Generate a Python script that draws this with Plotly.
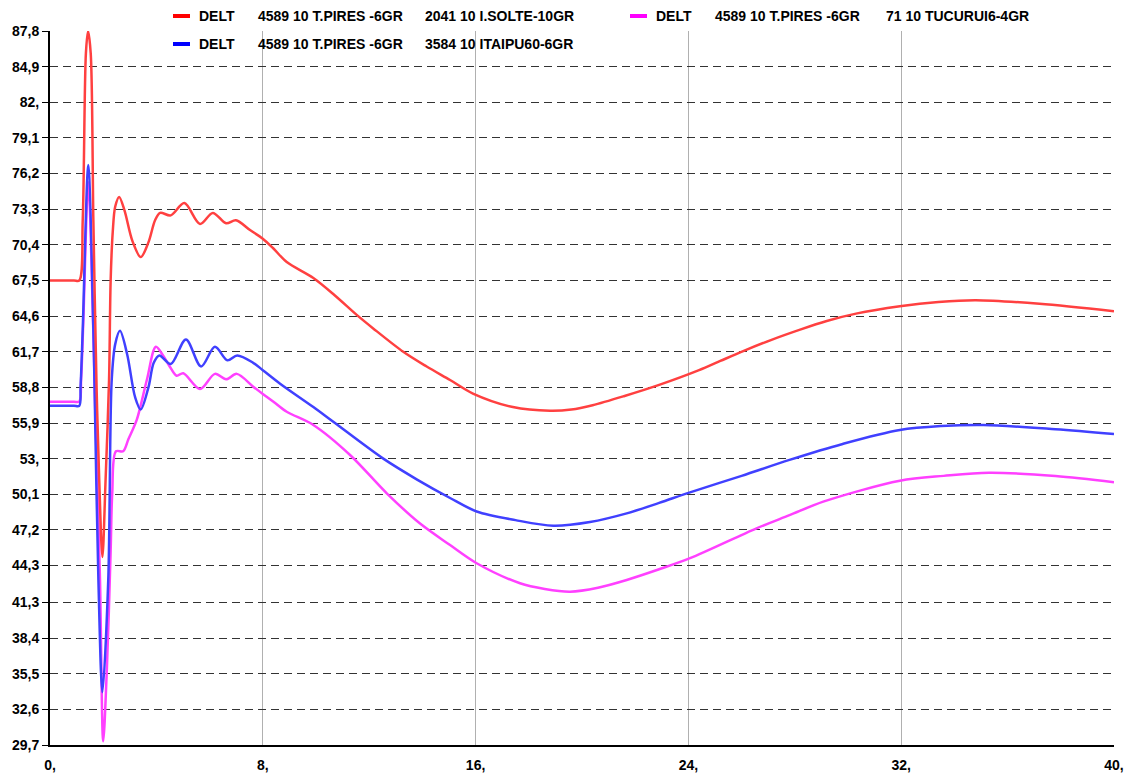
import plotly.graph_objects as go

# Rotor angle differences (DELT) versus time
t_red = [0, 0.9, 1.1, 1.23, 1.35, 1.43, 1.53, 1.63, 1.75, 1.85, 1.97, 2.09, 2.22, 2.28, 2.36, 2.45, 2.6,
         2.8, 3.1, 3.41, 3.7, 3.95, 4.14, 4.54, 5.05, 5.64, 6.12, 6.62, 6.99, 7.52, 8.0, 8.4, 8.9,
         9.9, 10.7, 11.53, 12.15, 13.28, 14.16, 15.04, 15.9, 17.4, 18.8, 19.6, 20.4, 21.6, 22.9, 24.4,
         25.2, 26.06, 27.1, 28.2, 29.2, 30.3, 31.95, 33.4, 34.8, 37.2, 40]
v_red = [67.5, 67.5, 67.5, 72.4, 86.0, 87.8, 86.0, 72.4, 58.9, 51.3, 45.0, 51.3, 59.4, 67.5, 71.5, 73.5, 74.3,
         73.2, 70.7, 69.4, 70.6, 72.4, 73.0, 72.8, 73.8, 72.1, 73.0, 72.15, 72.4, 71.6, 70.9, 70.1, 69.0,
         67.7, 66.3, 64.7, 63.6, 61.7, 60.5, 59.4, 58.3, 57.2, 56.9, 57.0, 57.35, 58.1, 59.0, 60.2,
         60.95, 61.75, 62.65, 63.5, 64.2, 64.8, 65.4, 65.75, 65.9, 65.6, 65.0]

t_blue = [0, 0.9, 1.1, 1.15, 1.23, 1.44, 1.63, 1.67, 1.82, 1.97, 2.19, 2.32, 2.45, 2.63, 2.9, 3.2, 3.41,
          3.7, 3.9, 4.11, 4.54, 5.11, 5.68, 6.2, 6.67, 7.04, 7.64, 8.0, 8.65, 9.9, 10.65, 12.53,
          13.8, 15.04, 16.04, 17.5, 18.92, 20.3, 21.68, 22.9, 24.06, 26.0, 27.8, 29.8, 31.95, 33.5,
          35.1, 37.8, 40]
v_blue = [57.3, 57.3, 57.3, 58.9, 63.5, 76.9, 63.5, 59.4, 43.1, 34.0, 43.1, 59.4, 62.3, 63.4, 61.5, 58.0, 57.0,
          58.8, 60.8, 61.4, 60.7, 62.7, 60.5, 62.1, 61.0, 61.4, 60.8, 60.2, 59.1, 57.2, 56.0, 53.0,
          51.3, 49.8, 48.7, 48.0, 47.55, 47.85, 48.55, 49.4, 50.26, 51.6, 52.9, 54.2, 55.33, 55.65,
          55.74, 55.39, 55.0]

t_mag = [0, 0.9, 1.1, 1.17, 1.25, 1.44, 1.62, 1.7, 1.88, 2.0, 2.14, 2.28, 2.34, 2.48, 2.75, 2.95, 3.26,
         3.64, 3.98, 4.25, 4.5, 4.76, 5.01, 5.64, 6.2, 6.62, 7.02, 7.64, 8.0, 8.4, 8.9, 9.9, 11.28,
         12.66, 13.9, 15.04, 16.04, 17.67, 18.6, 19.55, 20.6, 21.68, 22.9, 24.06, 26.56, 27.8, 29.07,
         31.95, 33.6, 35.3, 37.8, 40]
v_mag = [57.64, 57.64, 57.64, 59.5, 64.0, 75.5, 64.0, 57.0, 43.1, 30.0, 36.0, 45.5, 50.2, 53.6, 53.6, 54.6, 56.15,
         59.4, 62.1, 61.4, 60.5, 59.75, 59.95, 58.67, 59.9, 59.46, 59.9, 58.86, 58.27, 57.64, 56.82, 55.74, 53.3,
         50.18, 47.74, 45.97, 44.49, 42.86, 42.4, 42.18, 42.5, 43.13, 44.0, 44.9, 47.33, 48.4, 49.5,
         51.2, 51.6, 51.86, 51.59, 51.08]

y_ticks = [87.8, 84.9, 82.0, 79.1, 76.2, 73.3, 70.4, 67.5, 64.6, 61.7, 58.8, 55.9, 53.0, 50.1,
           47.2, 44.3, 41.3, 38.4, 35.5, 32.6, 29.7]
y_labels = ["87,8", "84,9", "82,", "79,1", "76,2", "73,3", "70,4", "67,5", "64,6", "61,7", "58,8",
            "55,9", "53,", "50,1", "47,2", "44,3", "41,3", "38,4", "35,5", "32,6", "29,7"]
x_ticks = [0, 8, 16, 24, 32, 40]
x_labels = ["0,", "8,", "16,", "24,", "32,", "40,"]

RED = "#FF4040"
BLUE = "#4040FF"
MAG = "#FF40FF"

legend_rows = [
    # marker colour, x of marker (px), y (px), bus pair
    ("#FF0000", 173, 16, "2041 10 I.SOLTE-10GR"),
    ("#0000FF", 173, 44, "3584 10 ITAIPU60-6GR"),
    ("#FF00FF", 630, 16, "71 10 TUCURUI6-4GR"),
]

W, H = 1134, 773
ML, MR, MT, MB = 50, 20, 31, 28
PW, PH = W - ML - MR, H - MT - MB


def px(x):
    return (x - ML) / PW


def py(y):
    return (H - MB - y) / PH


fig = go.Figure()
line_style = dict(width=2.5, shape="spline", smoothing=0.9)
fig.add_trace(go.Scatter(x=t_mag, y=v_mag, mode="lines", line=dict(color=MAG, **line_style)))
fig.add_trace(go.Scatter(x=t_blue, y=v_blue, mode="lines", line=dict(color=BLUE, **line_style)))
fig.add_trace(go.Scatter(x=t_red, y=v_red, mode="lines", line=dict(color=RED, **line_style)))

font_b = dict(family="Liberation Sans, Arial, sans-serif", size=14, color="black")
annotations = []
shapes = []
for mcolor, x0, y0, pair in legend_rows:
    shapes.append(dict(type="line", xref="paper", yref="paper",
                       x0=px(x0), x1=px(x0 + 17), y0=py(y0), y1=py(y0),
                       line=dict(color=mcolor, width=4)))
    for dx, txt in [(24, "DELT"), (83, "4589 10 T.PIRES -6GR"), (250 if x0 == 173 else 254, pair)]:
        annotations.append(dict(xref="paper", yref="paper", x=px(x0 + dx), y=py(y0),
                                xanchor="left", yanchor="middle", showarrow=False,
                                text="<b>%s</b>" % txt, font=font_b))

fig.update_layout(
    width=W, height=H,
    margin=dict(l=ML, r=MR, t=MT, b=MB, autoexpand=False),
    paper_bgcolor="white", plot_bgcolor="white",
    showlegend=False,
    annotations=annotations,
    shapes=shapes,
    xaxis=dict(range=[0, 40], tickmode="array", tickvals=x_ticks, ticktext=["<b>%s</b>" % s for s in x_labels],
               tickfont=font_b, ticks="", ticklabelstandoff=6,
               showgrid=True, gridcolor="#b0b0b0", gridwidth=0.7,
               showline=True, linecolor="black", linewidth=2, zeroline=False),
    yaxis=dict(range=[29.7, 87.8], tickmode="array", tickvals=y_ticks, ticktext=["<b>%s</b>" % s for s in y_labels],
               tickfont=font_b, ticks="outside", ticklen=6, tickcolor="black", tickwidth=1,
               showgrid=True, gridcolor="#333333", gridwidth=1.2, griddash="8px,5px",
               showline=True, linecolor="black", linewidth=2, zeroline=False),
)

fig.write_html("out.html")
